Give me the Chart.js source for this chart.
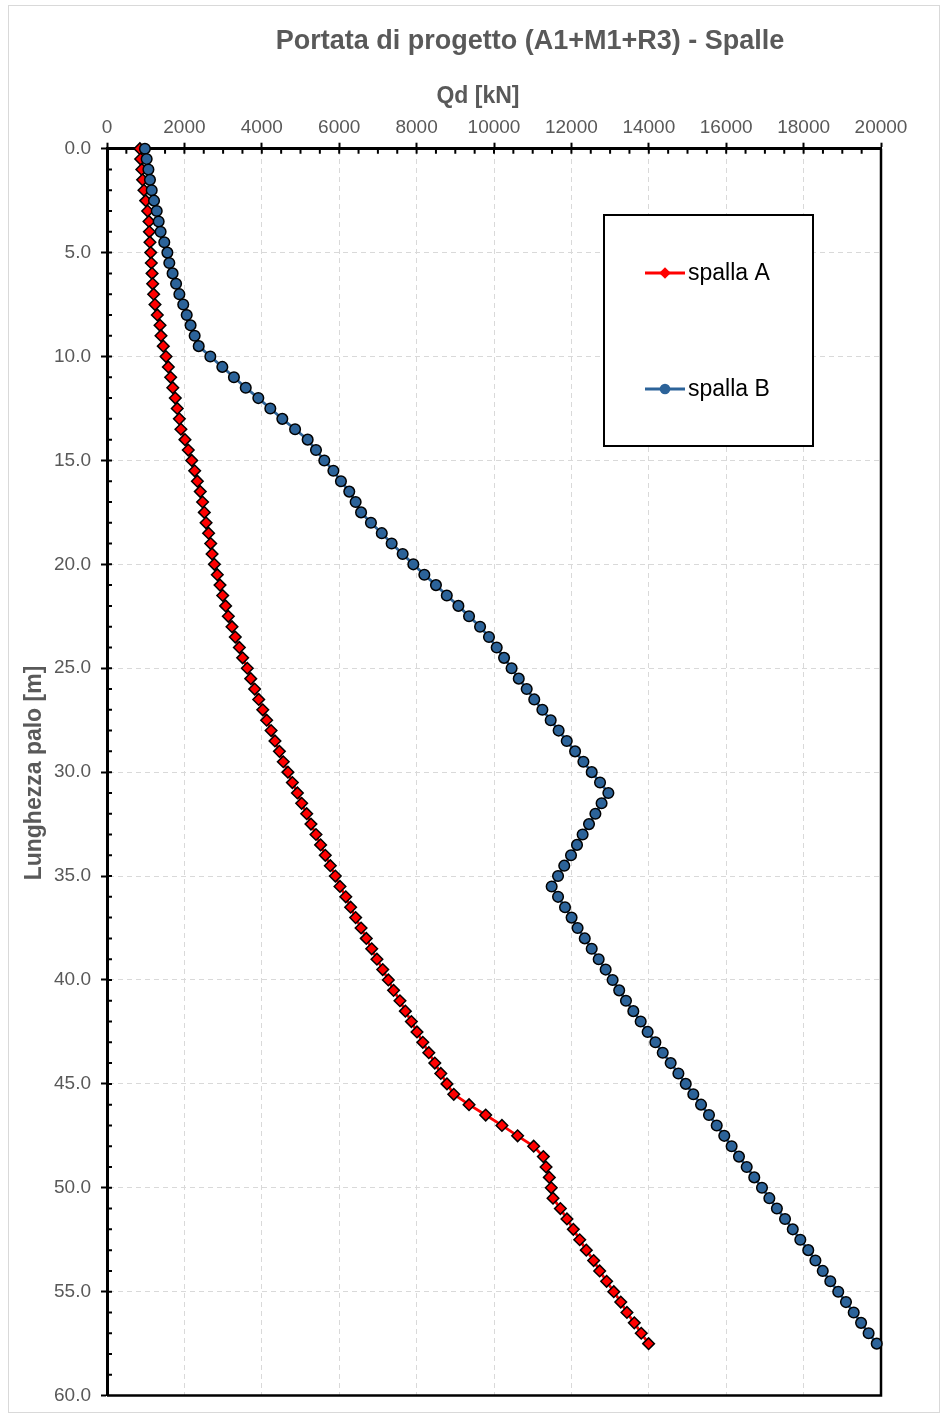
<!DOCTYPE html>
<html>
<head>
<meta charset="utf-8">
<title>Portata di progetto (A1+M1+R3) - Spalle</title>
<script src="https://cdn.jsdelivr.net/npm/chart.js@4.4.1/dist/chart.umd.min.js"></script>
<style>
  html, body { margin: 0; padding: 0; background: #fff; }
  #wrap { width: 944px; height: 1417px; position: relative; }
</style>
</head>
<body>
<div id="wrap"><canvas id="chart" width="944" height="1417"></canvas></div>
<script>
// profondità [m] (asse verticale, ogni 0.5 m)
const depths = [
  0.0, 0.5, 1.0, 1.5, 2.0, 2.5, 3.0, 3.5, 4.0, 4.5, 5.0, 5.5, 6.0, 6.5, 7.0, 7.5, 8.0, 8.5, 9.0, 9.5,
  10.0, 10.5, 11.0, 11.5, 12.0, 12.5, 13.0, 13.5, 14.0, 14.5, 15.0, 15.5, 16.0, 16.5, 17.0, 17.5, 18.0, 18.5, 19.0, 19.5,
  20.0, 20.5, 21.0, 21.5, 22.0, 22.5, 23.0, 23.5, 24.0, 24.5, 25.0, 25.5, 26.0, 26.5, 27.0, 27.5, 28.0, 28.5, 29.0, 29.5,
  30.0, 30.5, 31.0, 31.5, 32.0, 32.5, 33.0, 33.5, 34.0, 34.5, 35.0, 35.5, 36.0, 36.5, 37.0, 37.5, 38.0, 38.5, 39.0, 39.5,
  40.0, 40.5, 41.0, 41.5, 42.0, 42.5, 43.0, 43.5, 44.0, 44.5, 45.0, 45.5, 46.0, 46.5, 47.0, 47.5, 48.0, 48.5, 49.0, 49.5,
  50.0, 50.5, 51.0, 51.5, 52.0, 52.5, 53.0, 53.5, 54.0, 54.5, 55.0, 55.5, 56.0, 56.5, 57.0, 57.5
];

// Qd [kN] spalla A
const spallaA = [
  850, 870, 900, 920, 955, 1000, 1050, 1085, 1095, 1110, 1130, 1145, 1165, 1180, 1205, 1240, 1300, 1370, 1395, 1455,
  1525, 1585, 1645, 1700, 1765, 1815, 1870, 1910, 2015, 2100, 2190, 2265, 2335, 2410, 2470, 2515, 2560, 2625, 2680, 2715,
  2775, 2850, 2920, 2990, 3065, 3135, 3230, 3315, 3420, 3505, 3625, 3715, 3815, 3920, 4025, 4125, 4240, 4340, 4455, 4555,
  4675, 4790, 4920, 5030, 5160, 5270, 5400, 5520, 5640, 5770, 5900, 6020, 6170, 6295, 6425, 6565, 6700, 6840, 6975, 7125,
  7270, 7405, 7570, 7710, 7865, 8010, 8160, 8315, 8470, 8625, 8785, 8960, 9355, 9785, 10205, 10610, 11025, 11275, 11345, 11430,
  11480, 11525, 11715, 11885, 12050, 12215, 12385, 12575, 12730, 12910, 13095, 13275, 13435, 13625, 13805, 13995
];

// Qd [kN] spalla B
const spallaB = [
  980, 1025, 1070, 1110, 1155, 1215, 1285, 1335, 1385, 1480, 1560, 1610, 1695, 1785, 1870, 1970, 2060, 2160, 2265, 2370,
  2670, 2980, 3280, 3585, 3910, 4220, 4530, 4860, 5185, 5400, 5615, 5850, 6045, 6260, 6425, 6565, 6820, 7100, 7355, 7640,
  7915, 8200, 8500, 8780, 9080, 9355, 9640, 9870, 10070, 10260, 10455, 10640, 10845, 11040, 11250, 11465, 11670, 11880, 12095, 12310,
  12525, 12740, 12955, 12780, 12620, 12455, 12290, 12145, 11990, 11815, 11655, 11490, 11655, 11835, 12005, 12160, 12345, 12525, 12705, 12885,
  13065, 13235, 13410, 13600, 13790, 13970, 14170, 14360, 14565, 14765, 14955, 15150, 15350, 15555, 15755, 15950, 16140, 16330, 16530, 16725,
  16925, 17115, 17310, 17520, 17720, 17915, 18120, 18305, 18495, 18690, 18895, 19095, 19295, 19485, 19680, 19890
];

const seriesNames = ['spalla A', 'spalla B'];
const qdTicks = [0, 2000, 4000, 6000, 8000, 10000, 12000, 14000, 16000, 18000, 20000];
const depthTicks = [0, 5, 10, 15, 20, 25, 30, 35, 40, 45, 50, 55, 60];

const FONT = '"Liberation Sans", Arial, sans-serif';
const GREY = '#595959';
const RED = '#ff0000';
const BLUE = '#2c6399';

function toPoints(values) {
  return values.map((v, i) => ({ x: v, y: depths[i] }));
}

// cornice, bordi del grafico, tacche secondarie, titoli e legenda
const decor = {
  id: 'decor',
  beforeDraw(chart) {
    const ctx = chart.ctx;
    ctx.save();
    ctx.fillStyle = '#fff';
    ctx.fillRect(0, 0, chart.width, chart.height);
    ctx.strokeStyle = '#d9d9d9';
    ctx.lineWidth = 1;
    ctx.strokeRect(8.5, 5.5, 931, 1407);
    ctx.restore();
  },
  beforeDatasetsDraw(chart) {
    const { ctx, chartArea: a, scales } = chart;
    ctx.save();
    ctx.strokeStyle = '#000';
    ctx.lineWidth = 2.5;
    ctx.beginPath();
    ctx.moveTo(a.right, a.top);
    ctx.lineTo(a.right, a.bottom);
    ctx.lineTo(a.left, a.bottom);
    ctx.stroke();

    ctx.lineWidth = 2;
    ctx.beginPath();
    for (let v = 500; v < 20000; v += 500) {
      const px = scales.x.getPixelForValue(v);
      ctx.moveTo(px, a.top);
      ctx.lineTo(px, a.top + 5);
    }
    for (let d = 1; d < 60; d += 1) {
      const py = scales.y.getPixelForValue(d);
      ctx.moveTo(a.left, py);
      ctx.lineTo(a.left + 5, py);
    }
    ctx.stroke();
    ctx.restore();
  },
  afterDraw(chart) {
    const ctx = chart.ctx;
    ctx.save();
    ctx.fillStyle = GREY;
    ctx.textAlign = 'center';
    ctx.textBaseline = 'middle';
    ctx.font = 'bold 27px ' + FONT;
    ctx.fillText('Portata di progetto (A1+M1+R3) - Spalle', 530, 42);
    ctx.font = 'bold 23px ' + FONT;
    ctx.fillText('Qd [kN]', 478, 97);
    ctx.translate(35, 773);
    ctx.rotate(-Math.PI / 2);
    ctx.fillText('Lunghezza palo [m]', 0, 0);
    ctx.restore();

    // legenda
    ctx.save();
    ctx.fillStyle = '#fff';
    ctx.fillRect(604, 215, 209, 231);
    ctx.strokeStyle = '#000';
    ctx.lineWidth = 2;
    ctx.strokeRect(604, 215, 209, 231);
    const rows = [273, 389];
    chart.data.datasets.forEach((ds, i) => {
      const y = rows[i];
      ctx.strokeStyle = ds.borderColor;
      ctx.lineWidth = ds.borderWidth;
      ctx.beginPath();
      ctx.moveTo(645, y);
      ctx.lineTo(685, y);
      ctx.stroke();
      ctx.fillStyle = ds.pointBackgroundColor;
      ctx.strokeStyle = ds.pointBorderColor;
      ctx.lineWidth = ds.pointBorderWidth;
      Chart.helpers.drawPoint(ctx, { pointStyle: ds.pointStyle, radius: ds.pointRadius, rotation: 0 }, 665, y);
      ctx.fillStyle = '#000';
      ctx.font = '23px ' + FONT;
      ctx.textAlign = 'left';
      ctx.textBaseline = 'middle';
      ctx.fillText(ds.label, 688, y + 1);
    });
    ctx.restore();
  }
};

const axisTicks = {
  color: GREY,
  font: { family: FONT, size: 19 },
  autoSkip: false,
  maxRotation: 0
};

new Chart(document.getElementById('chart'), {
  type: 'scatter',
  data: {
    datasets: [
      {
        label: seriesNames[0],
        data: toPoints(spallaA),
        showLine: true,
        borderColor: RED,
        borderWidth: 2.8,
        pointStyle: 'rectRot',
        pointRadius: 5.8,
        pointBackgroundColor: RED,
        pointBorderColor: '#000',
        pointBorderWidth: 1.5,
        clip: false,
        order: 1
      },
      {
        label: seriesNames[1],
        data: toPoints(spallaB),
        showLine: true,
        borderColor: BLUE,
        borderWidth: 2.8,
        pointStyle: 'circle',
        pointRadius: 5.3,
        pointBackgroundColor: BLUE,
        pointBorderColor: '#000',
        pointBorderWidth: 1.5,
        clip: false,
        order: 0
      }
    ]
  },
  options: {
    responsive: false,
    animation: false,
    layout: { padding: { top: 108.7, left: 7, right: 63, bottom: 13.6 } },
    plugins: {
      legend: { display: false },
      title: { display: false },
      tooltip: { enabled: false }
    },
    scales: {
      x: {
        type: 'linear',
        position: 'top',
        min: 0,
        max: 20000,
        afterBuildTicks: (scale) => { scale.ticks = qdTicks.map(v => ({ value: v })); },
        afterFit: (scale) => { scale.height = 40; },
        ticks: { ...axisTicks, padding: 4, callback: (v) => String(v) },
        grid: { color: '#d9d9d9', lineWidth: 1, tickColor: '#000', tickLength: 6, tickWidth: 2 },
        border: { color: '#000', width: 3, dash: [5, 4] }
      },
      y: {
        type: 'linear',
        reverse: true,
        min: 0,
        max: 60,
        afterBuildTicks: (scale) => { scale.ticks = depthTicks.map(v => ({ value: v })); },
        afterFit: (scale) => { scale.width = 100; },
        ticks: { ...axisTicks, padding: 10, callback: (v) => Number(v).toFixed(1) },
        grid: { color: '#d9d9d9', lineWidth: 1, tickColor: '#000', tickLength: 6, tickWidth: 2 },
        border: { color: '#000', width: 3, dash: [5, 4] }
      }
    }
  },
  plugins: [decor]
});
</script>
</body>
</html>
